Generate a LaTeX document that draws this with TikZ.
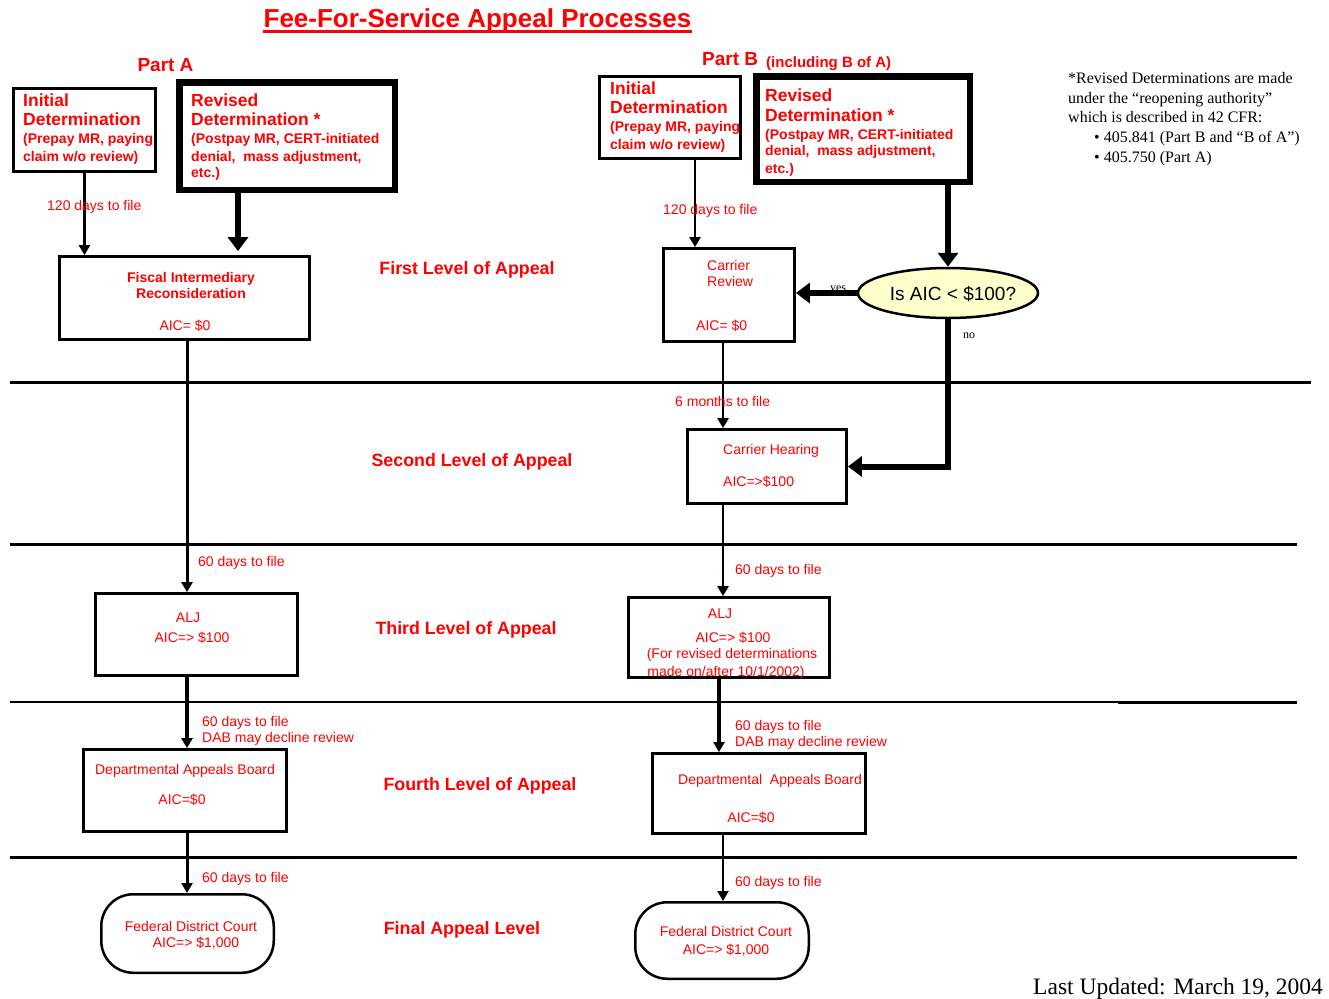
\documentclass[tikz,border=0pt]{standalone}
\usepackage{fontspec}
\setmainfont{Liberation Sans}
\newfontfamily\seriffam{Liberation Serif}
\usetikzlibrary{arrows.meta,shapes.geometric}
\definecolor{fred}{RGB}{255,0,0}
\definecolor{cream}{RGB}{255,255,204}
\begin{document}
\begin{tikzpicture}[x=1pt,y=-1pt,
  box/.style={draw, line width=2.8pt, inner sep=0},
  rbox/.style={draw, line width=6.5pt, inner sep=0},
  court/.style={draw, line width=2.5pt, rounded corners=32pt, inner sep=0},
  tl/.style={text=fred, font=\fontsize{14}{16}\selectfont, inner sep=0, anchor=base west},
  tc/.style={text=fred, font=\fontsize{14}{16}\selectfont, inner sep=0, anchor=base},
  big/.style={text=fred, font=\bfseries\fontsize{17.5}{20}\selectfont, inner sep=0, anchor=base west},
  sb/.style={text=fred, font=\bfseries\fontsize{14}{16}\selectfont, inner sep=0, anchor=base west},
  sbc/.style={text=fred, font=\bfseries\fontsize{14}{16}\selectfont, inner sep=0, anchor=base},
  lvl/.style={text=fred, font=\bfseries\fontsize{17.8}{20}\selectfont, inner sep=0, anchor=base},
  note/.style={font=\seriffam\fontsize{16}{18}\selectfont, inner sep=0, anchor=base west},
  small/.style={font=\seriffam\fontsize{12}{14}\selectfont, inner sep=0, anchor=base},
  conn/.style={line width=2.4pt, -{Triangle[length=10pt,width=11pt]}},
  heavy/.style={line width=6pt, -{Triangle[length=14pt,width=20pt]}},
  sep/.style={line width=3pt}]
\fill[white] (0,0) rectangle (1329,998);
\useasboundingbox (0,0) rectangle (1329,998);

% separators
\draw[sep] (10,382) -- (1311,382);
\draw[sep] (10,544) -- (1297,544);
\draw[line width=1.5pt] (10,702) -- (1297,702);
\draw[sep] (1118,702.5) -- (1297,702.5);
\draw[sep] (10,857) -- (1297,857);

% title
\node[font=\bfseries\fontsize{26}{30}\selectfont, text=fred, anchor=base, inner sep=0] (title) at (477.5,28) {Fee-For-Service Appeal Processes};
\draw[fred, line width=2.5pt] ([yshift=-3.5pt]title.base west) -- ([yshift=-3.5pt]title.base east);

\node[font=\bfseries\fontsize{19}{22}\selectfont, text=fred, anchor=base, inner sep=0] (partA) at (165.5,71.5) {Part A};
\node[font=\bfseries\fontsize{19}{22}\selectfont, text=fred, anchor=base west, inner sep=0] (partB) at (702,65.5) {Part B};
\node[font=\bfseries\fontsize{15}{17}\selectfont, text=fred, anchor=base west, inner sep=0] (partBs) at (766,67) {(including B of A)};

% boxes part A
\node[box, minimum width=142pt, minimum height=83pt] (iniA) at (84.5,130) {};
\node[rbox, minimum width=215.5pt, minimum height=107.5pt] (revA) at (287,136) {};
\node[box, minimum width=250pt, minimum height=83pt] (FI) at (184.5,298) {};
\node[box, minimum width=202pt, minimum height=82pt] (aljA) at (196.5,634.5) {};
\node[box, minimum width=203pt, minimum height=82pt] (dabA) at (185,790.5) {};
\node[court, minimum width=172.5pt, minimum height=78.5pt] (courtA) at (187.5,933.5) {};

% boxes part B
\node[box, minimum width=141pt, minimum height=82pt] (iniB) at (670,117.5) {};
\node[rbox, minimum width=213.5pt, minimum height=105.5pt] (revB) at (863,129) {};
\node[box, minimum width=131pt, minimum height=93pt] (CR) at (729,295) {};
\node[draw, ellipse, line width=2.5pt, fill=cream, minimum width=180pt, minimum height=50pt, inner sep=0] (dec) at (948,293) {};
\node[box, minimum width=159pt, minimum height=74pt] (CH) at (767,466.5) {};
\node[box, minimum width=201pt, minimum height=80pt] (aljB) at (729,637.5) {};
\node[box, minimum width=213pt, minimum height=80pt] (dabB) at (759,793.5) {};
\node[court, minimum width=173.5pt, minimum height=76.5pt] (courtB) at (722,940.5) {};

% column coordinates
\coordinate (cA) at (187,0);
\coordinate (cRA) at (238,0);
\coordinate (cB1) at (695,0);
\coordinate (cB2) at (723,0);
\coordinate (cB3) at (719,0);

% connectors part A
\draw[conn] (iniA.south) -- (iniA.south |- FI.north);
\draw[heavy] (revA.south -| cRA) -- ([yshift=4pt]FI.north -| cRA);
\draw[conn, line width=3pt] (FI.south -| cA) -- (aljA.north -| cA);
\draw[conn, line width=3.2pt] (aljA.south -| cA) -- (dabA.north -| cA);
\draw[conn, line width=3pt] (dabA.south -| cA) -- (courtA.north -| cA);

% connectors part B
\draw[conn] (iniB.south -| cB1) -- (CR.north -| cB1);
\draw[heavy] (revB.south -| dec.north) -- (dec.north);
\draw[heavy] (dec.west) -- (dec.west -| CR.east);
\draw[heavy] (dec.south) -- (dec.south |- CH.east) -- (CH.east);
\draw[conn] (CR.south -| cB2) -- (CH.north -| cB2);
\draw[conn] (CH.south -| cB2) -- (aljB.north -| cB2);
\draw[conn, line width=3.5pt] (aljB.south -| cB3) -- (dabB.north -| cB3);
\draw[conn] (dabB.south -| cB2) -- (courtB.north -| cB2);

% texts part A
\node[big] (iniA1) at (23,106) {Initial};
\node[big] (iniA2) at (23,125) {Determination};
\node[sb] (iniA3) at (23,143.5) {(Prepay MR, paying};
\node[sb] (iniA4) at (23,161.5) {claim w/o review)};
\node[big] (revA1) at (191,106) {Revised};
\node[big] (revA2) at (191,125) {Determination *};
\node[sb] (revA3) at (191,143.5) {(Postpay MR, CERT-initiated};
\node[sb] (revA4) at (191,161.5) {denial,\ \ mass adjustment,};
\node[sb] (revA5) at (191,177.5) {etc.)};
\node[tl] (lA1) at (47,210) {120 days to file};
\node[sbc] (FI1) at (191,282) {Fiscal Intermediary};
\node[sbc] (FI2) at (191,298) {Reconsideration};
\node[tc] (FI3) at (185,330) {AIC= \$0};
\node[tl] (lA2) at (198,566) {60 days to file};
\node[tc] (aljA1) at (188,622) {ALJ};
\node[tc] (aljA2) at (192,642) {AIC=> \$100};
\node[tl] (lA3) at (202,726) {60 days to file};
\node[tl] (lA4) at (202,742) {DAB may decline review};
\node[tc] (dabA1) at (185,774) {Departmental Appeals Board};
\node[tc] (dabA2) at (182,804) {AIC=\$0};
\node[tl] (lA5) at (202,882) {60 days to file};
\node[tc] (courtA1) at (191,931) {Federal District Court};
\node[tc] (courtA2) at (196,947) {AIC=> \$1,000};

% level labels
\node[lvl] (lv1) at (467,274) {First Level of Appeal};
\node[lvl] (lv2) at (472,466) {Second Level of Appeal};
\node[lvl] (lv3) at (466,634) {Third Level of Appeal};
\node[lvl] (lv4) at (480,790) {Fourth Level of Appeal};
\node[lvl] (lv5) at (462,934) {Final Appeal Level};

% texts part B
\node[big] (iniB1) at (610,94) {Initial};
\node[big] (iniB2) at (610,113) {Determination};
\node[sb] (iniB3) at (610,131.5) {(Prepay MR, paying};
\node[sb] (iniB4) at (610,149.5) {claim w/o review)};
\node[big] (revB1) at (765,101) {Revised};
\node[big] (revB2) at (765,121) {Determination *};
\node[sb] (revB3) at (765,139.5) {(Postpay MR, CERT-initiated};
\node[sb] (revB4) at (765,155.5) {denial,\ \ mass adjustment,};
\node[sb] (revB5) at (765,173.5) {etc.)};
\node[tl] (lB1) at (663,214) {120 days to file};
\node[tl] (CR1) at (707,270) {Carrier};
\node[tl] (CR2) at (707,286) {Review};
\node[tl] (CR3) at (696,330) {AIC= \$0};
\node[font=\fontsize{19}{22}\selectfont, inner sep=0, anchor=base] (decT) at (953,300) {Is AIC < \$100?};
\node[small] (yes) at (838,291) {yes};
\node[small] (no) at (969,338) {no};
\node[tl] (lB2) at (675,406) {6 months to file};
\node[tl] (CH1) at (723,454) {Carrier\ Hearing};
\node[tl] (CH2) at (723,486) {AIC=>\$100};
\node[tl] (lB3) at (735,574) {60 days to file};
\node[tc] (aljB1) at (720,618) {ALJ};
\node[tc] (aljB2) at (733,642) {AIC=> \$100};
\node[tc] (aljB3) at (732,658) {(For revised determinations};
\node[tc] (aljB4) at (726,676) {made on/after 10/1/2002)};
\node[tl] (lB4) at (735,730) {60 days to file};
\node[tl] (lB5) at (735,746) {DAB may decline review};
\node[tc] (dabB1) at (770,784) {Departmental\ \ Appeals Board};
\node[tc] (dabB2) at (751,822) {AIC=\$0};
\node[tl] (lB6) at (735,886) {60 days to file};
\node[tc] (courtB1) at (726,936) {Federal District Court};
\node[tc] (courtB2) at (726,954) {AIC=> \$1,000};

% footnote
\node[note] (n1) at (1068,83) {*Revised Determinations are made};
\node[note] (n2) at (1068,103) {under the “reopening authority”};
\node[note] (n3) at (1068,122) {which is described in 42 CFR:};
\node[note] (n4) at (1094,142) {• 405.841 (Part B and “B of A”)};
\node[note] (n5) at (1094,162) {• 405.750 (Part A)};
\node[font=\seriffam\fontsize{23.5}{26}\selectfont, inner sep=0, anchor=base west] (upd) at (1033,994) {Last Updated: March 19, 2004};
\end{tikzpicture}
\end{document}
